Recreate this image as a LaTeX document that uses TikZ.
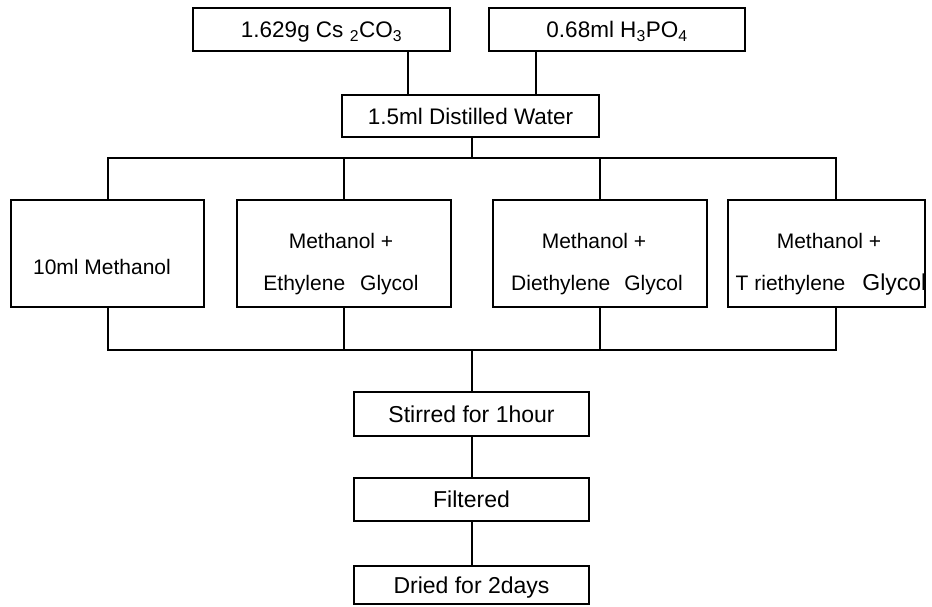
\documentclass[tikz,border=0pt]{standalone}
\usepackage{fontspec}
\setmainfont{Liberation Sans}
\begin{document}
\begin{tikzpicture}[x=1pt,y=-1pt,
  box/.style={draw=black, line width=1.5pt, rectangle, inner sep=0pt},
  tbox/.style={box, text height=16pt, text depth=0pt},
  conn/.style={draw=black, line width=1.5pt},
  lbl/.style={inner sep=0pt, anchor=base, font=\fontsize{21}{25}\selectfont},
  topf/.style={font=\fontsize{22.5}{27}\selectfont},
  lowf/.style={font=\fontsize{23}{27}\selectfont}]
\useasboundingbox (0,0) rectangle (932,606);
\fill[white] (0,0) rectangle (932,606);

% top row
\node[tbox, topf, minimum width=257pt, minimum height=43pt] (cs) at (321.5,29.5) {1.629g Cs \textsubscript{2}CO\textsubscript{3}};
\node[tbox, topf, minimum width=256pt, minimum height=43pt] (hp) at (617,29.5) {0.68ml H\textsubscript{3}PO\textsubscript{4}};
\node[tbox, topf, minimum width=257pt, minimum height=42pt] (water) at (470.5,116) {1.5ml Distilled Water};

% middle row
\node[box, minimum width=193pt, minimum height=107pt] (A) at (107.5,253.5) {};
\node[box, minimum width=214pt, minimum height=107pt] (B) at (344,253.5) {};
\node[box, minimum width=214pt, minimum height=107pt] (C) at (600,253.5) {};
\node[box, minimum width=197pt, minimum height=107pt] (D) at (826.5,253.5) {};

\node[lbl] (tA) at (102,274) {10ml Methanol};
\node[lbl] (tB1) at (341,248) {Methanol +};
\node[lbl] (tB2) at (341,290) {Ethylene\hspace{15pt}Glycol};
\node[lbl] (tC1) at (594,248) {Methanol +};
\node[lbl] (tC2) at (597,290) {Diethylene\hspace{14pt}Glycol};
\node[lbl] (tD1) at (829,248) {Methanol +};
\node[lbl] (tD2) at (831,290) {T riethylene\hspace{17pt}{\fontsize{23}{27}\selectfont Glycol}};

% lower column
\node[tbox, lowf, minimum width=235pt, minimum height=44pt] (stir) at (471.5,414) {Stirred for 1hour};
\node[tbox, lowf, minimum width=235pt, minimum height=43pt] (filt) at (471.5,499.5) {Filtered};
\node[tbox, lowf, minimum width=235pt, minimum height=38pt] (dry) at (471.5,585) {Dried for 2days};

% connector coordinates
\coordinate (x1) at (408,0);
\coordinate (x2) at (536,0);
\coordinate (cx) at (472,0);
\coordinate (brL) at (108,158);
\coordinate (brR) at (836,158);
\coordinate (coL) at (108,350);
\coordinate (coR) at (836,350);

\draw[conn] (cs.south -| x1) -- (water.north -| x1);
\draw[conn] (hp.south -| x2) -- (water.north -| x2);
\draw[conn] (water.south -| cx) -- (brL -| cx);
\draw[conn] (A.north -| brL) -- (brL) -- (brR) -- (D.north -| brR);
\draw[conn] (B.north) -- (B.north |- brL);
\draw[conn] (C.north) -- (C.north |- brL);
\draw[conn] (A.south -| coL) -- (coL) -- (coR) -- (D.south -| coR);
\draw[conn] (B.south) -- (B.south |- coL);
\draw[conn] (C.south) -- (C.south |- coL);
\draw[conn] (coL -| cx) -- (stir.north -| cx);
\draw[conn] (stir.south -| cx) -- (filt.north -| cx);
\draw[conn] (filt.south -| cx) -- (dry.north -| cx);
\end{tikzpicture}
\end{document}
